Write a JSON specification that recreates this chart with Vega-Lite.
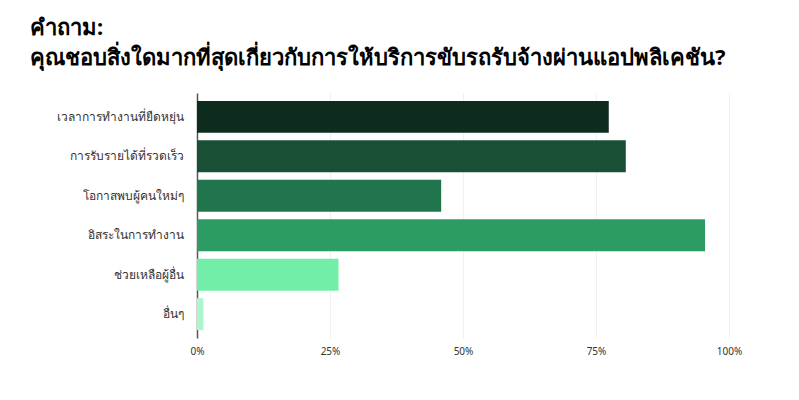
{
  "$schema": "https://vega.github.io/schema/vega-lite/v6.json",
  "autosize": "none",
  "width": 532,
  "height": 245,
  "padding": {"left": 197, "top": 93, "right": 70, "bottom": 62},
  "background": "white",
  "title": {
    "text": ["คำถาม:", "คุณชอบสิ่งใดมากที่สุดเกี่ยวกับการให้บริการขับรถรับจ้างผ่านแอปพลิเคชัน?"],
    "anchor": "start",
    "frame": "group",
    "dx": -167,
    "offset": 23,
    "font": "Noto Sans",
    "fontSize": 22,
    "fontWeight": "bold",
    "color": "#000000",
    "lineHeight": 30
  },
  "data": {
    "values": [
      {"answer": "เวลาการทำงานที่ยืดหยุ่น", "pct": 0.774},
      {"answer": "การรับรายได้ที่รวดเร็ว", "pct": 0.806},
      {"answer": "โอกาสพบผู้คนใหม่ๆ", "pct": 0.459},
      {"answer": "อิสระในการทำงาน", "pct": 0.955},
      {"answer": "ช่วยเหลือผู้อื่น", "pct": 0.266},
      {"answer": "อื่นๆ", "pct": 0.012}
    ]
  },
  "mark": {"type": "bar"},
  "encoding": {
    "y": {
      "field": "answer",
      "type": "nominal",
      "sort": null,
      "scale": {"paddingInner": 0.19, "paddingOuter": 0.2},
      "axis": {
        "title": null,
        "ticks": false,
        "labelPadding": 14,
        "labelFont": "Noto Sans",
        "labelFontSize": 12,
        "labelColor": "#333333",
        "domainColor": "#555555",
        "domainWidth": 1.5,
        "grid": false
      }
    },
    "x": {
      "field": "pct",
      "type": "quantitative",
      "scale": {"domain": [0, 1], "nice": false},
      "axis": {
        "title": null,
        "format": "%",
        "values": [0, 0.25, 0.5, 0.75, 1],
        "domain": false,
        "ticks": false,
        "labelFlush": false,
        "labelPadding": 8,
        "labelFont": "Noto Sans",
        "labelFontSize": 10,
        "labelColor": "#333333",
        "grid": true,
        "gridColor": "#f0f0f0",
        "gridWidth": 1
      }
    },
    "color": {
      "field": "answer",
      "type": "nominal",
      "sort": null,
      "scale": {
        "domain": ["เวลาการทำงานที่ยืดหยุ่น", "การรับรายได้ที่รวดเร็ว", "โอกาสพบผู้คนใหม่ๆ", "อิสระในการทำงาน", "ช่วยเหลือผู้อื่น", "อื่นๆ"],
        "range": ["#0e2c1d", "#184f35", "#21754c", "#2c9c64", "#73eea9", "#adf5cb"]
      },
      "legend": null
    }
  },
  "config": {"view": {"stroke": null}}
}
